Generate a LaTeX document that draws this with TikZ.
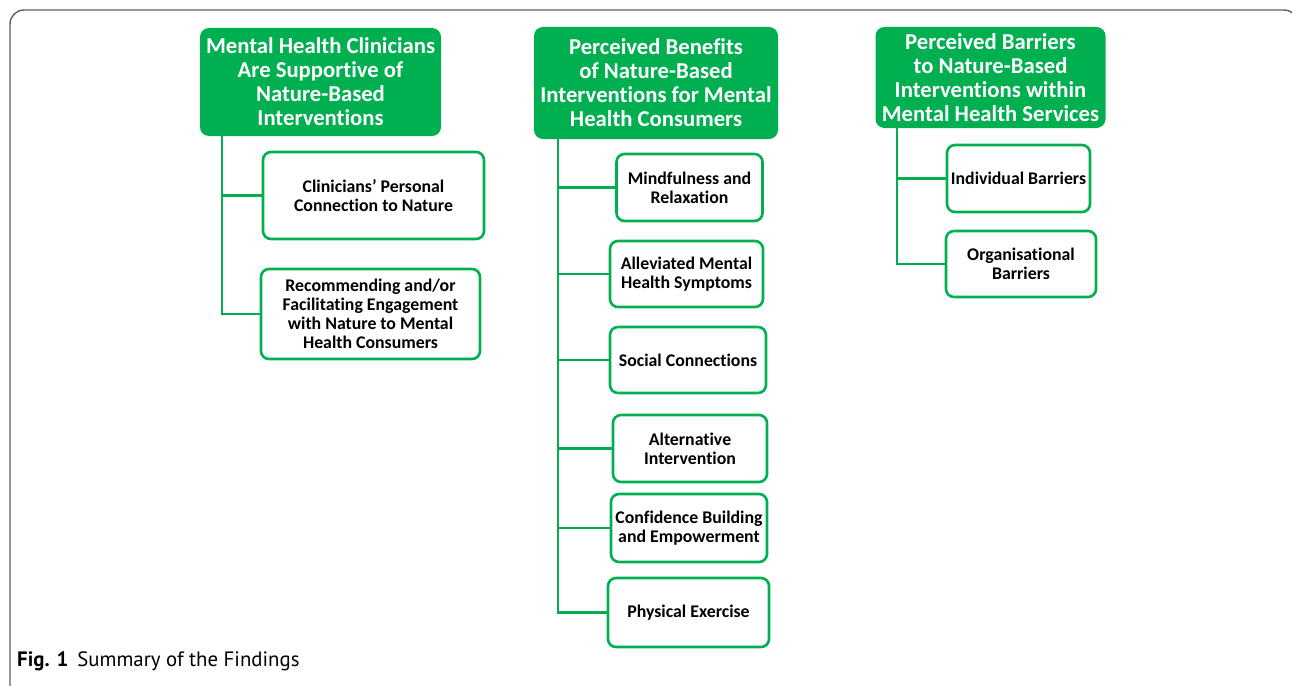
\documentclass[tikz,border=0pt]{standalone}
\usepackage{fontspec}
\setmainfont{Carlito}[RawFeature={-liga;-calt;-clig;-dlig}]
\newfontfamily\capfont{PT Sans}
\definecolor{hgreen}{RGB}{0,176,80}
\definecolor{framegray}{RGB}{95,95,95}
\tikzset{
  head/.style={rectangle, rounded corners=9pt, fill=hgreen, draw=none, text=white, inner sep=0pt, align=center,
    font=\bfseries\fontsize{22.7}{24}\selectfont},
  sub/.style={rectangle, rounded corners=8pt, fill=white, draw=hgreen, line width=2.6pt, inner sep=0pt, align=center,
    font=\bfseries\fontsize{17.8}{19.2}\selectfont},
  link/.style={draw=hgreen, line width=2.6pt},
}
\begin{document}
\begin{tikzpicture}[x=1pt,y=-1pt]
\useasboundingbox (0,0) rectangle (1292,685);
% frame
\draw[framegray, line width=1.4pt, rounded corners=14pt] (10,700) -- (10,10) -- (1298,10) -- (1298,700);
% headers
\node[head, minimum width=241pt, minimum height=108pt] (h1) at (320.5,82) {Mental Health Clinicians\\Are Supportive of\\Nature-Based\\Interventions};
\node[head, minimum width=244pt, minimum height=112pt] (h2) at (656,83) {Perceived Benefits\\of Nature-Based\\Interventions for Mental\\Health Consumers};
\node[head, minimum width=230pt, minimum height=101pt] (h3) at (990.5,77.5) {Perceived Barriers\\to Nature-Based\\Interventions within\\Mental Health Services};
% column 1
\node[sub, minimum width=221pt, minimum height=87pt] (a1) at (373.5,195.5) {Clinicians’ Personal\\Connection to Nature};
\node[sub, minimum width=219pt, minimum height=90pt] (a2) at (370.5,314) {Recommending and/or\\Facilitating Engagement\\with Nature to Mental\\Health Consumers};
% column 2
\node[sub, minimum width=146pt, minimum height=67pt] (b1) at (689.5,187.5) {Mindfulness and\\Relaxation};
\node[sub, minimum width=153pt, minimum height=66pt] (b2) at (686.5,274) {Alleviated Mental\\Health Symptoms};
\node[sub, minimum width=156pt, minimum height=66pt] (b3) at (688,360) {Social Connections};
\node[sub, minimum width=154pt, minimum height=67pt] (b4) at (690,448.5) {Alternative\\Intervention};
\node[sub, minimum width=156pt, minimum height=68pt] (b5) at (689,528) {Confidence Building\\and Empowerment};
\node[sub, minimum width=161pt, minimum height=69pt] (b6) at (688.5,612.5) {Physical Exercise};
% column 3
\node[sub, minimum width=143pt, minimum height=67pt] (c1) at (1018.5,178.5) {Individual Barriers};
\node[sub, minimum width=150pt, minimum height=66pt] (c2) at (1021,264) {Organisational\\Barriers};
% trunks
\coordinate (t1) at (222,136);
\coordinate (t2) at (558,139);
\coordinate (t3) at (897,128);
\draw[link] (t1) |- (a1.west);
\draw[link] (t1) |- (a2.west);
\draw[link] (t2) |- (b1.west);
\draw[link] (t2) |- (b2.west);
\draw[link] (t2) |- (b3.west);
\draw[link] (t2) |- (b4.west);
\draw[link] (t2) |- (b5.west);
\draw[link] (t2) |- (b6.west);
\draw[link] (t3) |- (c1.west);
\draw[link] (t3) |- (c2.west);
% caption
\node[anchor=base west, inner sep=0pt, font=\capfont\fontsize{20.8}{24}\selectfont] (cap) at (17,666) {\textbf{Fig. 1}\hspace{9pt}Summary of the Findings};
\end{tikzpicture}
\end{document}
